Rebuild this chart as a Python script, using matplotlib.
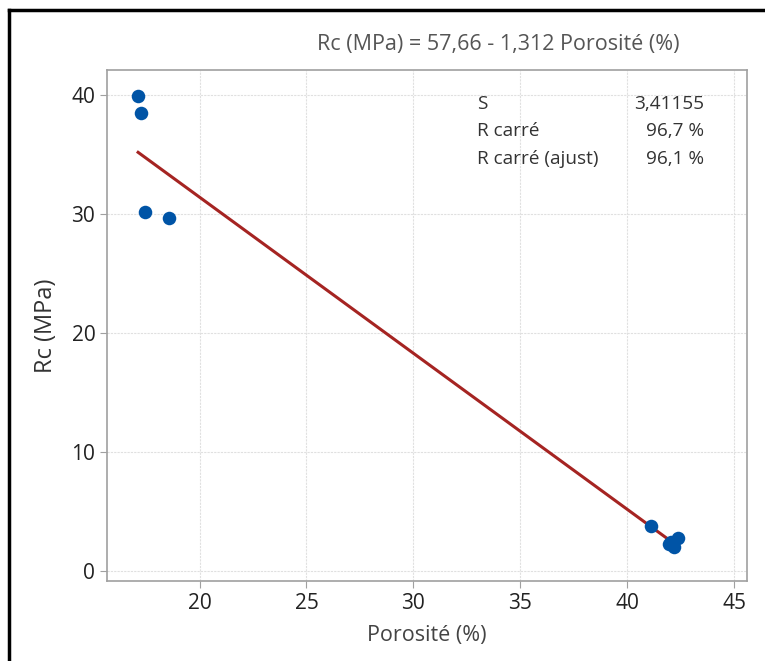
import numpy as np
import matplotlib.pyplot as plt
from matplotlib.lines import Line2D

# data
porosite = [17.13, 17.27, 17.45, 18.57, 41.13, 42.05, 42.35, 42.2, 41.95]
rc = [39.9, 38.5, 30.2, 29.7, 3.8, 2.45, 2.75, 2.05, 2.3]
intercept = 57.66
slope = -1.312
stats_names = ["S", "R carré", "R carré (ajust)"]
stats_values = ["3,41155", "96,7 %", "96,1 %"]

plt.rcParams["font.family"] = ["Open Sans", "DejaVu Sans"]

fig = plt.figure(figsize=(7.65, 6.61), dpi=100)
ax = fig.add_axes([0.140, 0.121, 0.836, 0.773])

ax.scatter(porosite, rc, s=95, color="#0054a6", zorder=3, linewidths=0)
xf = np.array([min(porosite), max(porosite)])
ax.plot(xf, intercept + slope * xf, color="#a52422", linewidth=2.2, zorder=2)

ax.set_xlim(15.68, 45.58)
ax.set_ylim(-0.84, 42.1)
ax.set_xticks([20, 25, 30, 35, 40, 45])
ax.set_yticks([0, 10, 20, 30, 40])
ax.grid(True, color="#e0e0e0", linewidth=0.8, linestyle=(0, (2, 1)))
ax.set_axisbelow(True)
for sp in ax.spines.values():
    sp.set_color("#a0a0a0")
    sp.set_linewidth(1.2)
ax.tick_params(colors="#a0a0a0", labelcolor="#222222", labelsize=15, length=5)

ax.set_xlabel("Porosité (%)", fontsize=15.5, color="#444444", labelpad=8)
ax.set_ylabel("Rc (MPa)", fontsize=17, color="#333333", labelpad=10)

fig.text(0.651, 0.932, "Rc (MPa) = 57,66 - 1,312 Porosité (%)", fontsize=15.5,
         color="#555555", ha="center", va="center")

for i, (name, val) in enumerate(zip(stats_names, stats_values)):
    y = 0.843 - i * 0.0415
    fig.text(0.624, y, name, fontsize=13.7, color="#333333", va="center")
    fig.text(0.920, y, val, fontsize=13.7, color="#333333", va="center", ha="right")

# black frame on left and top
fig.add_artist(Line2D([0.012, 0.012], [0, 0.985], color="black", linewidth=2.5))
fig.add_artist(Line2D([0.012, 1.0], [0.985, 0.985], color="black", linewidth=2.5))

fig.savefig("out.png", dpi=100)
